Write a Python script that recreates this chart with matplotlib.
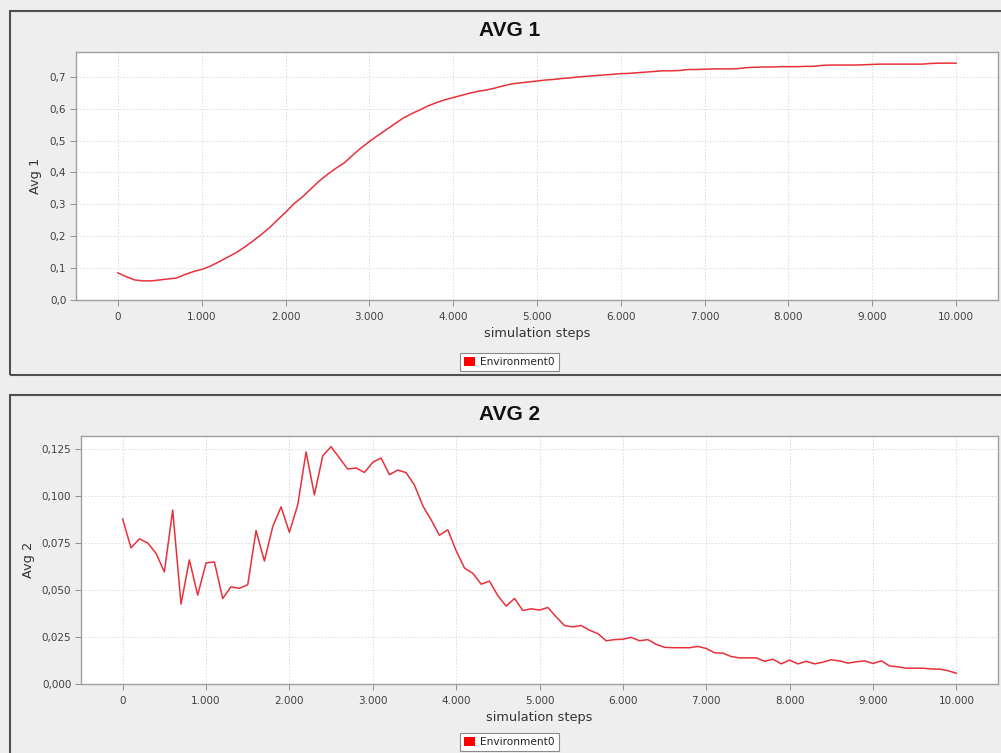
import matplotlib
matplotlib.use('Agg')
import matplotlib.pyplot as plt
from matplotlib.patches import Rectangle, Patch
from matplotlib.ticker import FuncFormatter
import numpy as np

steps = np.arange(0, 10001, 100)

avg1 = [0.085, 0.073, 0.063, 0.060, 0.060, 0.063, 0.066, 0.069, 0.080, 0.089,
        0.096, 0.106, 0.119, 0.133, 0.147, 0.164, 0.183, 0.203, 0.225, 0.250,
        0.275, 0.302, 0.323, 0.348, 0.373, 0.394, 0.413, 0.430, 0.454, 0.477,
        0.497, 0.516, 0.534, 0.552, 0.570, 0.584, 0.596, 0.609, 0.619, 0.628,
        0.635, 0.642, 0.649, 0.655, 0.659, 0.665, 0.672, 0.678, 0.681, 0.684,
        0.687, 0.690, 0.692, 0.695, 0.697, 0.700, 0.702, 0.704, 0.706, 0.708,
        0.710, 0.711, 0.713, 0.715, 0.717, 0.719, 0.719, 0.720, 0.723, 0.723,
        0.724, 0.725, 0.725, 0.725, 0.726, 0.729, 0.730, 0.731, 0.731, 0.732,
        0.732, 0.732, 0.733, 0.733, 0.736, 0.737, 0.737, 0.737, 0.737, 0.738,
        0.739, 0.740, 0.740, 0.740, 0.740, 0.740, 0.740, 0.742, 0.743, 0.743,
        0.743]

avg2 = [0.0877, 0.0724, 0.0772, 0.0750, 0.0695, 0.0596, 0.0925, 0.0425, 0.0660, 0.0473,
        0.0644, 0.0649, 0.0455, 0.0517, 0.0509, 0.0528, 0.0816, 0.0654, 0.0837, 0.0942,
        0.0807, 0.0953, 0.1234, 0.1006, 0.1214, 0.1262, 0.1202, 0.1143, 0.1149, 0.1125,
        0.1179, 0.1202, 0.1113, 0.1138, 0.1124, 0.1058, 0.0948, 0.0873, 0.0791, 0.0820,
        0.0709, 0.0617, 0.0589, 0.0531, 0.0547, 0.0470, 0.0414, 0.0455, 0.0391, 0.0400,
        0.0393, 0.0407, 0.0357, 0.0311, 0.0304, 0.0311, 0.0286, 0.0268, 0.0230, 0.0236,
        0.0238, 0.0248, 0.0230, 0.0236, 0.0211, 0.0195, 0.0193, 0.0193, 0.0193, 0.0200,
        0.0189, 0.0166, 0.0164, 0.0146, 0.0139, 0.0139, 0.0139, 0.0121, 0.0132, 0.0107,
        0.0127, 0.0107, 0.0121, 0.0107, 0.0116, 0.0129, 0.0123, 0.0111, 0.0118, 0.0123,
        0.0109, 0.0123, 0.0096, 0.0091, 0.0084, 0.0084, 0.0084, 0.0080, 0.0079, 0.0071,
        0.0057]

titles = ['AVG 1', 'AVG 2']
ylabels = ['Avg 1', 'Avg 2']
series_name = 'Environment0'

W, H = 1001, 753
bg = '#eeeeee'
red = '#e8303a'

fig = plt.figure(figsize=(W / 100, H / 100), dpi=100, facecolor=bg)


def px(x, y):
    return x / W, 1 - y / H


def fmt_x(v, pos):
    return f'{int(round(v)):,}'.replace(',', '.')


def setup(ax, ylim, yticks, ydec):
    ax.set_facecolor('white')
    ax.set_xlim(-500, 10500)
    ax.set_ylim(*ylim)
    ax.set_xticks(np.arange(0, 10001, 1000))
    ax.set_yticks(yticks)
    ax.xaxis.set_major_formatter(FuncFormatter(fmt_x))
    ax.yaxis.set_major_formatter(FuncFormatter(lambda v, p: f'{v:.{ydec}f}'.replace('.', ',')))
    ax.grid(True, color='#d8d8d8', linestyle=(0, (2, 2)), linewidth=0.6)
    ax.set_axisbelow(True)
    for s in ax.spines.values():
        s.set_color('#a0a0a0')
        s.set_linewidth(1.0)
    ax.tick_params(axis='both', direction='out', length=4, width=0.7, color='#909090',
                   labelsize=7.5, labelcolor='#404040', pad=3)
    ax.tick_params(axis='x', pad=5)


# top panel
ax1 = fig.add_axes([76 / W, 1 - 300 / H, (998 - 76) / W, (300 - 52) / H])
ax1.plot(steps, avg1, color=red, lw=1.1)
setup(ax1, (0, 0.778), np.arange(0, 0.71, 0.1), 1)
ax1.set_xlabel('simulation steps', fontsize=9.3, color='#333333', labelpad=3)
ax1.set_ylabel(ylabels[0], fontsize=9.3, color='#333333')
ax1.yaxis.set_label_coords(-0.037, 0.5)

# bottom panel
ax2 = fig.add_axes([81 / W, 1 - 684 / H, (998 - 81) / W, (684 - 436) / H])
ax2.plot(steps, avg2, color=red, lw=1.1)
setup(ax2, (0, 0.1319), np.arange(0, 0.126, 0.025), 3)
ax2.set_xlabel('simulation steps', fontsize=9.3, color='#333333', labelpad=3)
ax2.set_ylabel(ylabels[1], fontsize=9.3, color='#333333')
ax2.yaxis.set_label_coords(-0.050, 0.5)

# panel borders
fig.add_artist(Rectangle(px(10, 375), 1.05, (375 - 11) / H, transform=fig.transFigure,
                         fill=False, edgecolor='#505050', linewidth=1.5))
fig.add_artist(Rectangle(px(10, 770), 1.05, (770 - 395) / H, transform=fig.transFigure,
                         fill=False, edgecolor='#505050', linewidth=1.5))

# titles
for t, y in zip(titles, [30.5, 414.5]):
    fig.text(*px(510, y), t, ha='center', va='center', fontsize=15,
             fontweight='bold', family='Liberation Sans', color='#111111')

# legends
for y in [362, 742]:
    leg = fig.legend(handles=[Patch(facecolor='#ff0000', edgecolor='none', label=series_name)],
                     loc='center', bbox_to_anchor=px(509.5, y), fontsize=7.6,
                     frameon=True, fancybox=False, framealpha=1, edgecolor='#8a8a8a',
                     handlelength=1.0, handleheight=1.0, handletextpad=0.5,
                     borderpad=0.4, borderaxespad=0)
    leg.get_frame().set_linewidth(0.8)
    for txt in leg.get_texts():
        txt.set_color('#222222')

fig.savefig('out.png', dpi=100, facecolor=bg)
